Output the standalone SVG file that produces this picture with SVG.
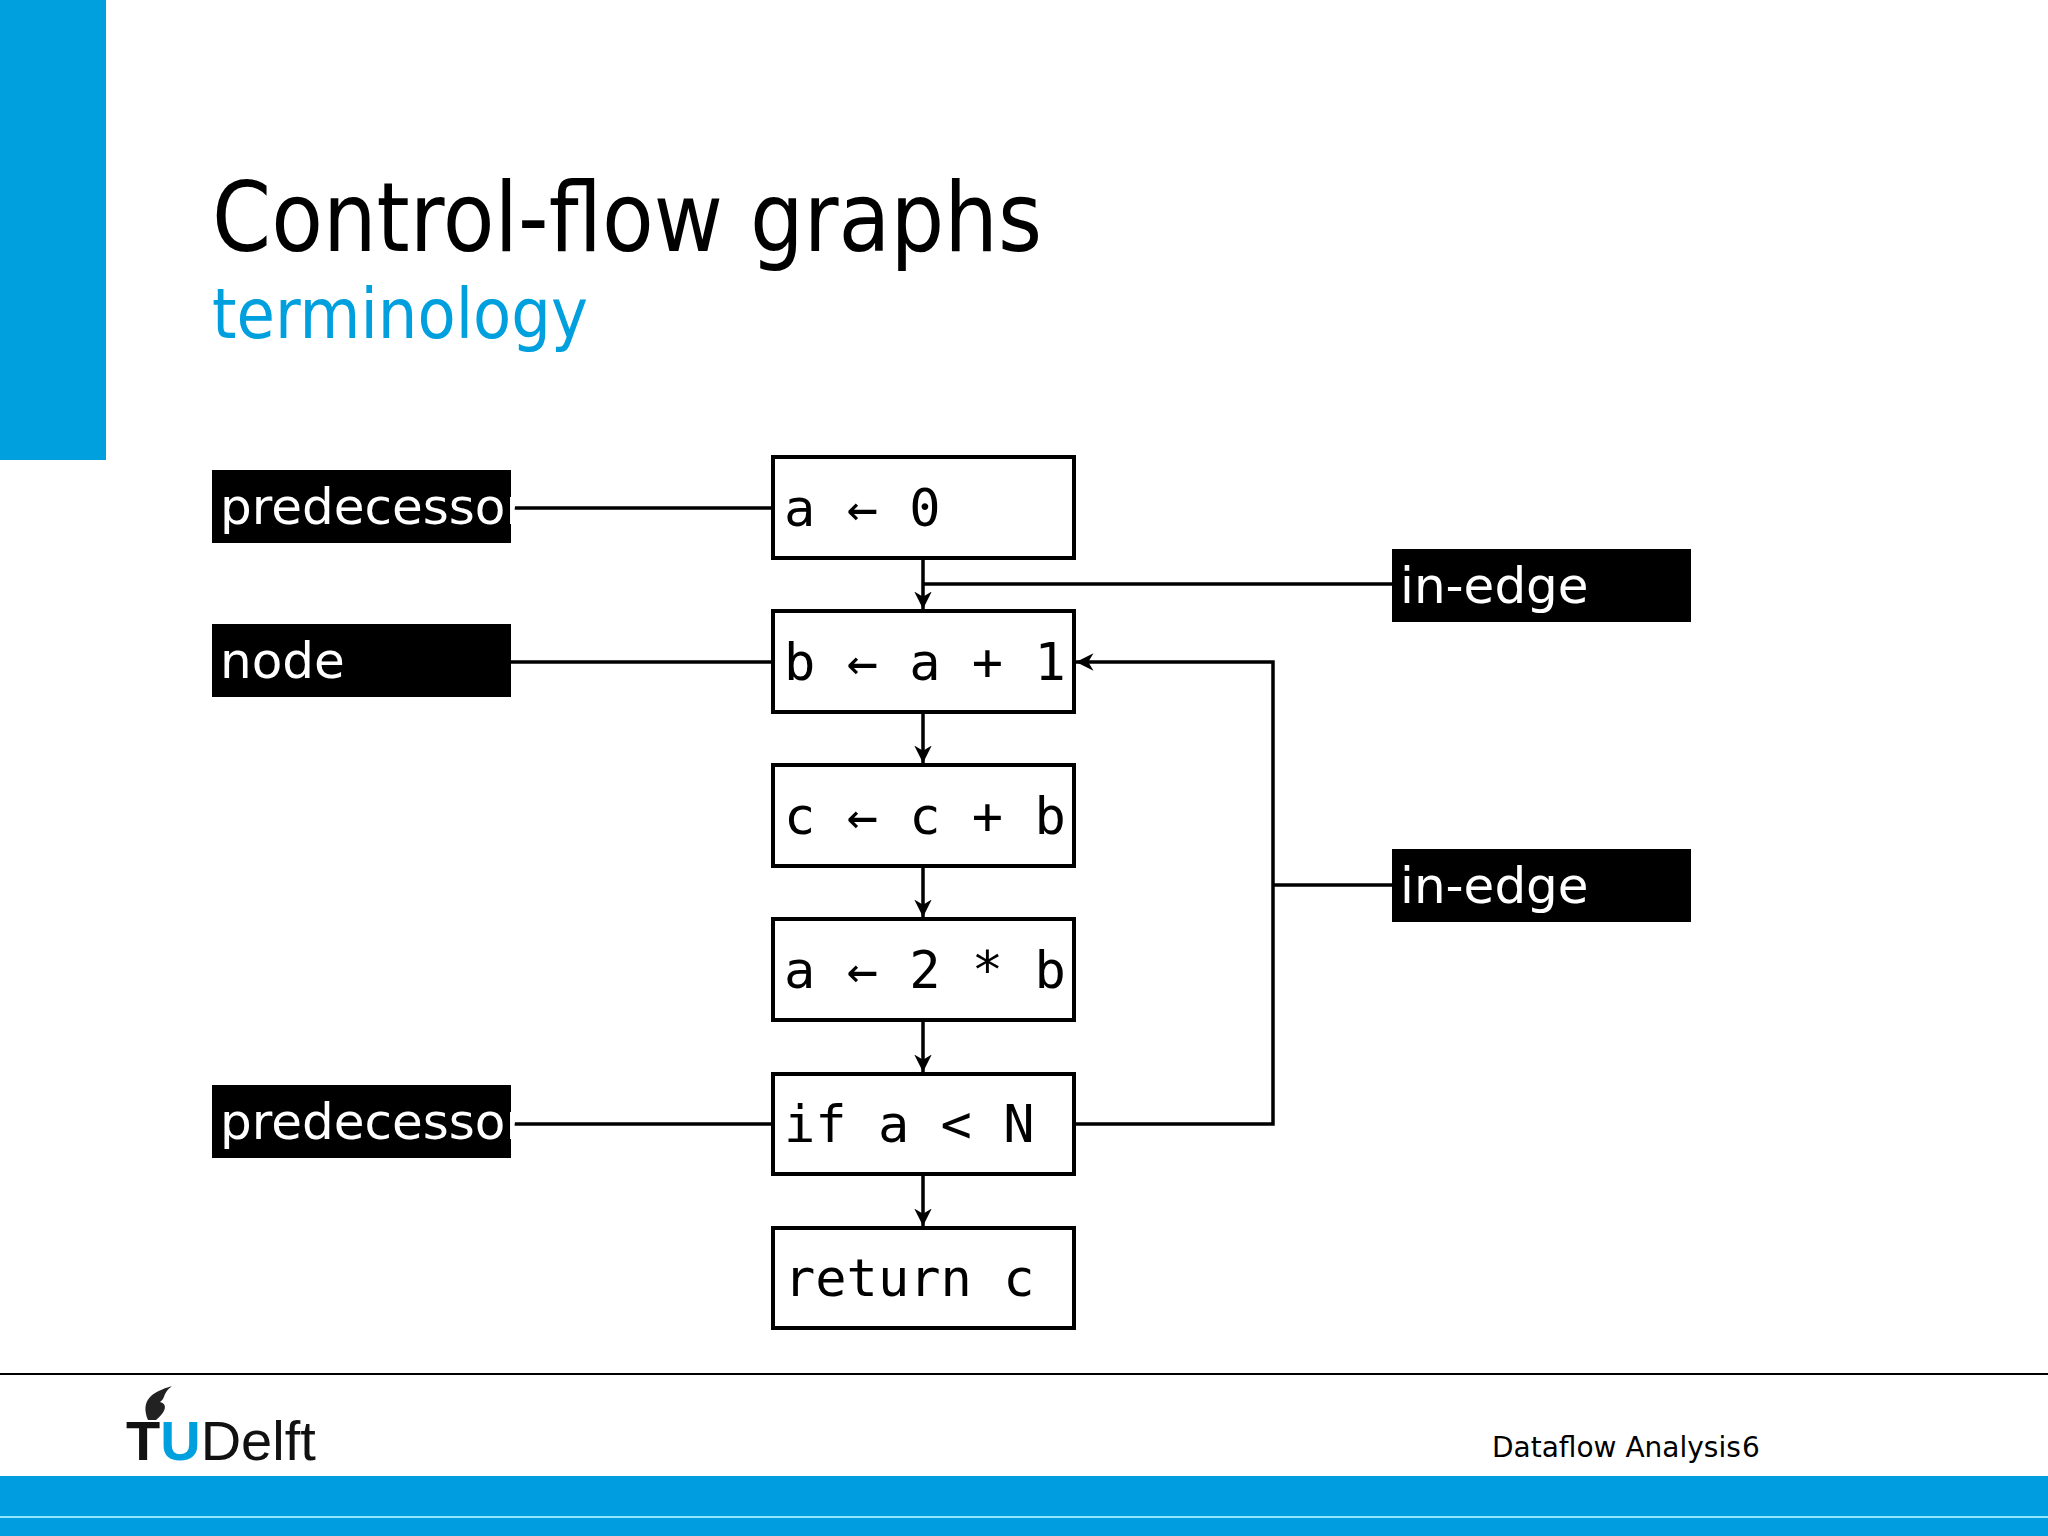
<svg xmlns="http://www.w3.org/2000/svg" width="2048" height="1536" viewBox="0 0 2048 1536">
<style>
.lbl{fill:#000}
.lt{font-family:"DejaVu Sans",Verdana,sans-serif;font-size:50px;fill:#fff}
.nd{fill:#fff;stroke:#000;stroke-width:4}
.nt{font-family:"DejaVu Sans Mono","Liberation Mono",monospace;font-size:52px;fill:#000}
.c{stroke:#000;stroke-width:3.5;fill:none}
</style>
<defs><marker id="ah" viewBox="0 0 10 10" refX="10" refY="5" markerWidth="5" markerHeight="5" orient="auto" markerUnits="strokeWidth"><path d="M0,0 L10,5 L0,10 L3,5 z" fill="#000"/></marker></defs>
<rect x="0" y="0" width="2048" height="1536" fill="#fff"/>
<rect x="0" y="0" width="106" height="460" fill="#00A0DF"/>
<text x="212" y="251" font-family="DejaVu Sans,Verdana,sans-serif" font-size="96" textLength="830" lengthAdjust="spacingAndGlyphs">Control-flow graphs</text>
<text x="212" y="338" font-family="DejaVu Sans,Verdana,sans-serif" font-size="70" fill="#00A0DF" textLength="376" lengthAdjust="spacingAndGlyphs">terminology</text>
<g id="connectors">
<line class="c" x1="511" y1="508" x2="773" y2="508"/>
<line class="c" x1="511" y1="662" x2="773" y2="662"/>
<line class="c" x1="511" y1="1124" x2="773" y2="1124"/>
<line class="c" x1="923" y1="584" x2="1392" y2="584"/>
<line class="c" x1="1273" y1="885" x2="1392" y2="885"/>
<line class="c" x1="923" y1="558" x2="923" y2="609" marker-end="url(#ah)"/>
<line class="c" x1="923" y1="712" x2="923" y2="763" marker-end="url(#ah)"/>
<line class="c" x1="923" y1="866" x2="923" y2="917" marker-end="url(#ah)"/>
<line class="c" x1="923" y1="1020" x2="923" y2="1072" marker-end="url(#ah)"/>
<line class="c" x1="923" y1="1174" x2="923" y2="1226" marker-end="url(#ah)"/>
<polyline class="c" points="1074,1124 1273,1124 1273,662 1076,662" marker-end="url(#ah)"/>
</g>
<g id="lbl1"><rect class="lbl" x="212" y="470" width="299" height="73"/><text class="lt" x="220" y="524">predecessor</text></g>
<g id="lbl2"><rect class="lbl" x="212" y="624" width="299" height="73"/><text class="lt" x="220" y="678">node</text></g>
<g id="lbl3"><rect class="lbl" x="212" y="1085" width="299" height="73"/><text class="lt" x="220" y="1139">predecessor</text></g>
<g id="lbl4"><rect class="lbl" x="1392" y="549" width="299" height="73"/><text class="lt" x="1400" y="603">in-edge</text></g>
<g id="lbl5"><rect class="lbl" x="1392" y="849" width="299" height="73"/><text class="lt" x="1400" y="903">in-edge</text></g>
<g id="n1"><rect class="nd" x="773" y="457" width="301" height="101"/><text class="nt" x="784" y="526" xml:space="preserve">a ← 0</text></g>
<g id="n2"><rect class="nd" x="773" y="611" width="301" height="101"/><text class="nt" x="784" y="680" xml:space="preserve">b ← a + 1</text></g>
<g id="n3"><rect class="nd" x="773" y="765" width="301" height="101"/><text class="nt" x="784" y="834" xml:space="preserve">c ← c + b</text></g>
<g id="n4"><rect class="nd" x="773" y="919" width="301" height="101"/><text class="nt" x="784" y="988" xml:space="preserve">a ← 2 * b</text></g>
<g id="n5"><rect class="nd" x="773" y="1074" width="301" height="100"/><text class="nt" x="784" y="1142" xml:space="preserve">if a &lt; N</text></g>
<g id="n6"><rect class="nd" x="773" y="1228" width="301" height="100"/><text class="nt" x="784" y="1296" xml:space="preserve">return c</text></g>
<line x1="0" y1="1374" x2="2048" y2="1374" stroke="#000" stroke-width="2"/>
<text x="1492" y="1457" font-family="DejaVu Sans,Verdana,sans-serif" font-size="28">Dataflow Analysis</text>
<text x="1742" y="1457" font-family="DejaVu Sans,Verdana,sans-serif" font-size="28">6</text>
<path d="M148,1420 C140,1400 152,1392 172,1386 C162,1394 166,1398 160,1402 C168,1404 166,1412 156,1420 Z" fill="#222"/>
<text x="126" y="1460" font-family="Liberation Sans,Arial,sans-serif" font-size="56" font-weight="bold" fill="#111">T<tspan fill="#00A0DF">U</tspan><tspan font-weight="normal">Delft</tspan></text>
<rect x="0" y="1476" width="2048" height="60" fill="#009EE0"/>
<rect x="0" y="1516" width="2048" height="2" fill="#8FE8FF"/>
</svg>
